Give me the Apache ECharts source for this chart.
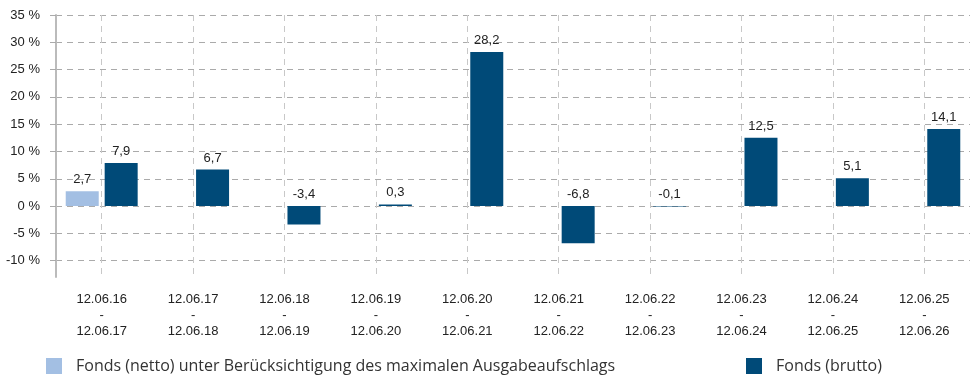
<!DOCTYPE html>
<html>
<head>
<meta charset="utf-8">
<script src="https://cdn.jsdelivr.net/npm/echarts@6/dist/echarts.min.js"></script>
<style>
  html, body { margin: 0; padding: 0; background: #fff; }
  #chart { width: 970px; height: 378px; }
</style>
</head>
<body>
<div id="chart"></div>
<script>
// Periods (one year each) shown on the category axis
const periodStart = ['12.06.16', '12.06.17', '12.06.18', '12.06.19', '12.06.20',
                     '12.06.21', '12.06.22', '12.06.23', '12.06.24', '12.06.25'];
const periodEnd   = ['12.06.17', '12.06.18', '12.06.19', '12.06.20', '12.06.21',
                     '12.06.22', '12.06.23', '12.06.24', '12.06.25', '12.06.26'];
const categories = periodStart.map((s, i) => s + '\n-\n' + periodEnd[i]);

// Performance in percent
const nettoValues  = [2.7, null, null, null, null, null, null, null, null, null];
const bruttoValues = [7.9, 6.7, -3.4, 0.3, 28.2, -6.8, -0.1, 12.5, 5.1, 14.1];

// Percent ticks on the value axis
const yTicks = [-10, -5, 0, 5, 10, 15, 20, 25, 30, 35];

const nettoName  = 'Fonds (netto) unter Berücksichtigung des maximalen Ausgabeaufschlags';
const bruttoName = 'Fonds (brutto)';

const fmt = v => v.toFixed(1).replace('.', ',');
const gridGray = '#aaaaaa';

const chart = echarts.init(document.getElementById('chart'));
const labelStyle = {
  show: true,
  position: 'top',
  distance: 5,
  color: '#222',
  fontFamily: 'Liberation Sans, Arial, sans-serif',
  fontSize: 13,
  formatter: p => fmt(p.value)
};
const legendText = { fontFamily: 'Open Sans, Noto Sans, sans-serif', fontSize: 16, color: '#333', padding: [0, 0, 0, 9] };

chart.setOption({
  animation: false,
  backgroundColor: '#fff',
  grid: { left: 56, right: -8, top: 15, bottom: 101, containLabel: false },
  legend: [
    {
      data: [nettoName], left: 46, top: 358, padding: 0, itemWidth: 16, itemHeight: 16, itemGap: 0,
      icon: 'rect', textStyle: legendText
    },
    {
      data: [bruttoName], left: 746, top: 358, padding: 0, itemWidth: 16, itemHeight: 16, itemGap: 0,
      icon: 'rect', textStyle: legendText
    }
  ],
  xAxis: {
    type: 'category',
    data: categories,
    axisLine: { show: false },
    axisTick: { show: false },
    axisLabel: {
      color: '#222',
      fontFamily: 'Liberation Sans, Arial, sans-serif',
      fontSize: 13,
      lineHeight: 16,
      margin: 14,
      interval: 0
    },
    splitLine: {
      show: true,
      alignWithLabel: true,
      lineStyle: { color: '#c8c8c8', type: [6, 5], width: 1 }
    }
  },
  yAxis: {
    type: 'value',
    min: -13,
    max: 35,
    axisLine: { show: true, lineStyle: { color: '#bbbbbb', width: 2 } },
    axisTick: { show: true, length: 6, customValues: yTicks, lineStyle: { color: gridGray } },
    axisLabel: {
      customValues: yTicks,
      color: '#222',
      fontFamily: 'Liberation Sans, Arial, sans-serif',
      fontSize: 13,
      margin: 16,
      formatter: v => v + ' %'
    },
    splitLine: { show: true, lineStyle: { color: gridGray, type: [6, 5], width: 1 } }
  },
  series: [
    {
      name: nettoName,
      type: 'bar',
      data: nettoValues,
      barWidth: 33,
      barGap: '18%',
      itemStyle: { color: '#a3bfe3' },
      label: labelStyle
    },
    {
      name: bruttoName,
      type: 'bar',
      data: bruttoValues,
      barWidth: 33,
      barGap: '18%',
      itemStyle: { color: '#004a78' },
      label: labelStyle
    }
  ]
});
</script>
</body>
</html>
